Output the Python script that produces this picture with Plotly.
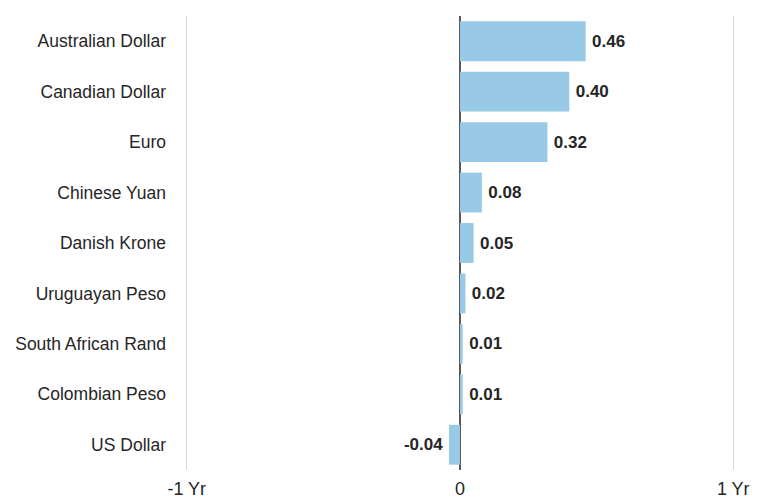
import plotly.graph_objects as go

categories = ["Australian Dollar", "Canadian Dollar", "Euro", "Chinese Yuan", "Danish Krone",
              "Uruguayan Peso", "South African Rand", "Colombian Peso", "US Dollar"]
values = [0.46, 0.40, 0.32, 0.08, 0.05, 0.02, 0.01, 0.01, -0.04]
labels = ["0.46", "0.40", "0.32", "0.08", "0.05", "0.02", "0.01", "0.01", "-0.04"]
tick_vals = [-1, 0, 1]
tick_text = ["-1 Yr", "0", "1 Yr"]

FONT = "Liberation Sans, Arial, sans-serif"

templates = ["\u2009%{text}" if v >= 0 else "%{text}\u2009" for v in values]

fig = go.Figure(go.Bar(
    x=values, y=categories, orientation="h",
    marker=dict(color="#98C9E6", line=dict(width=0)),
    width=0.79,
    text=labels, texttemplate=templates, textposition="outside", cliponaxis=False,
    textfont=dict(family=FONT, size=17, color="#262626", weight="bold"),
    hoverinfo="x+y",
))

fig.update_layout(
    width=761, height=499,
    margin=dict(l=184, r=25, t=16, b=29, autoexpand=False),
    plot_bgcolor="white", paper_bgcolor="white",
    showlegend=False,
    font=dict(family=FONT, size=17, color="#262626"),
    xaxis=dict(range=[-1.01, 1.01], tickvals=tick_vals, ticktext=tick_text,
               showgrid=True, gridcolor="#D9D9D9", gridwidth=1,
               zeroline=True, zerolinecolor="#595959", zerolinewidth=1.5,
               layer="above traces", ticklabelstandoff=6, automargin=False,
               tickfont=dict(size=18, family=FONT, color="#262626"), fixedrange=True),
    yaxis=dict(categoryorder="array", categoryarray=categories[::-1],
               autorange=False, range=[-0.5, 8.5], automargin=False,
               showgrid=False, zeroline=False, ticklabelstandoff=17,
               tickfont=dict(size=17.5, family=FONT, color="#262626")),
)

fig.write_html("out.html", config={"displayModeBar": False},
               post_script="document.body.style.margin='0';document.body.style.overflow='hidden';")
